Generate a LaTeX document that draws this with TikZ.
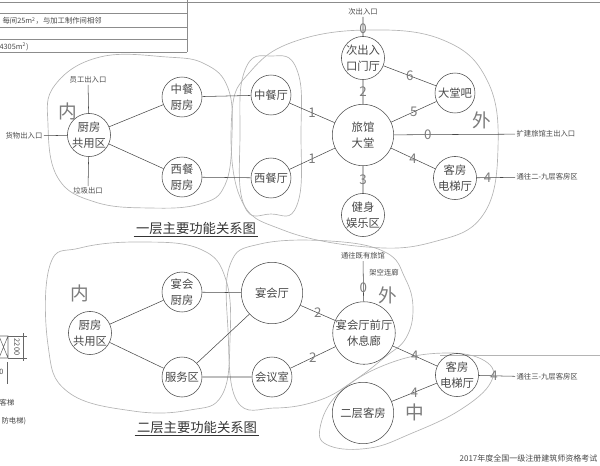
\documentclass[tikz,border=0pt]{standalone}
\usepackage{fontspec}
\setmainfont{Noto Sans CJK SC}
\usetikzlibrary{positioning}
\definecolor{linegray}{HTML}{484848}
\definecolor{pencil}{HTML}{7C7C7C}
\definecolor{zonegray}{HTML}{B4B4B4}
\tikzset{
room/.style={circle, draw=linegray, thin, minimum size=30pt, inner sep=0pt, align=center, text=linegray, font=\fontsize{8.5}{12}\selectfont}, % small function circles
hall/.style={room, minimum size=46pt}, % the large circles
note/.style={font=\fontsize{5.5}{6}\selectfont, text=linegray, inner sep=1pt}, % small printed notes
hand/.style={font=\fontsize{10}{10}\selectfont, text=pencil, inner sep=0pt}, % pencil marks
bighand/.style={hand, font=\fontsize{14}{14}\selectfont}, % 内 / 外 / 中
zone/.style={draw=zonegray, line width=0.5pt}, % pencil outlines
heading/.style={font=\fontsize{10}{10}\selectfont, text=black!80, inner sep=1.5pt},
}

\begin{document}
\begin{tikzpicture}[x=0.75pt, y=-0.75pt]
  \useasboundingbox (0,0) rectangle (600,465);

  % table fragment, top left
  \draw[black!45, thin] (0,2) -- (600,2);
  \foreach \yy in {13,27,39,52} \draw[black!45, thin] (0,\yy) -- (187,\yy);
  \draw[black!45, thin] (187,0) -- (187,52);
  \node[note, anchor=west] (tab1) at (1,21) {每间25m\textsuperscript{2}，与加工制作间相邻};
  \node[note, anchor=west] (tab2) at (-2,47) {4305m\textsuperscript{2})};

  % elevator fragment, bottom left
  \draw[black!60, thin] (-1,336) rectangle (8,358) (-1,336) -- (8,358) (-1,358) -- (8,336);
  \draw[black!60, very thin] (8,336) -- (27,336) (8,358) -- (27,358) (23,333) -- (23,361);
  \node[note, rotate=-90] (dim) at (17,347) {2200};
  \draw[black!60, very thin] (7,362) -- (7,384);
  \node[note, anchor=east] (dim2) at (5,372) {0};
  \node[note, anchor=east] (kt) at (16,403) {客梯};
  \node[note, anchor=west] (xf) at (0,421) {防电梯)};

  % pencil zones
  \draw[zone] plot[smooth cycle, tension=0.7] coordinates {(48,125) (55,85) (100,57) (167,57) (205,64) (228,88) (232,135) (225,185) (200,204) (150,208) (95,202) (58,178)};
  \draw[zone] plot[smooth cycle, tension=0.7] coordinates {(232,112) (250,72) (293,42) (367,30) (443,40) (487,80) (498,148) (483,215) (433,242) (367,247) (283,230) (240,197)};
  \draw[zone] plot[smooth cycle, tension=0.8] coordinates {(271,56) (297,70) (301,135) (297,205) (271,214) (244,205) (240,135) (245,70)};
  \draw[zone] plot[smooth cycle, tension=0.7] coordinates {(50,265) (80,248) (140,242) (200,249) (226,280) (230,340) (222,395) (190,410) (133,411) (68,392) (48,345)};
  \draw[zone] plot[smooth cycle, tension=0.7] coordinates {(230,265) (260,244) (330,241) (385,252) (405,278) (413,308) (406,338) (385,357) (355,380) (320,400) (275,408) (237,401) (228,330)};
  \draw[zone] plot[smooth cycle, tension=0.7] coordinates {(320,428) (340,392) (390,363) (445,353) (485,361) (491,382) (460,410) (410,434) (370,448) (330,446)};
  \draw[zone] (440,355) -- (600,355);

  % first floor
  \node[room] (ch1) at (89,135) {厨房\\共用区};
  \node[room] (zck) at (182,97) {中餐\\厨房};
  \node[room] (xck) at (182,177) {西餐\\厨房};
  \node[room] (zct) at (271,95) {中餐厅};
  \node[room] (xct) at (271,178) {西餐厅};
  \node[hall] (lgdt) at (363,135) {旅馆\\大堂};
  \node[room] (ccrk) at (363,58) {次出入\\口门厅};
  \node[room] (dtb) at (455,93) {大堂吧};
  \node[room] (kfdt1) at (455,178) {客房\\电梯厅};
  \node[room] (jsyl) at (363,215) {健身\\娱乐区};

  \node[note] (ygrk) at (88,80) {员工出入口};
  \node[note] (hwrk) at (24,136) {货物出入口};
  \node[note] (ljck) at (88,191) {垃圾出口};
  \node[note] (ccrkt) at (363,12) {次出入口};
  \node[note, anchor=west] (kjrk) at (515,134) {扩建旅馆主出入口};
  \node[note, anchor=west] (tw29) at (515,177) {通往二-九层客房区};

  \draw[linegray, thin] (ch1) -- (ygrk) (ch1) -- (hwrk) (ch1) -- (ljck)
        (ch1) -- (zck) (ch1) -- (xck)
        (zck) -- (zct) (xck) -- (xct)
        (zct) -- node[hand]{1} (lgdt)
        (xct) -- node[hand]{1} (lgdt)
        (ccrk) -- node[hand]{2} (lgdt)
        (ccrk) -- node[hand, pos=0.4]{0} (ccrkt)
        (ccrk) -- node[hand]{6} (dtb)
        (dtb) -- node[hand]{5} (lgdt)
        (lgdt) -- node[hand]{4} (kfdt1)
        (lgdt) -- node[hand]{3} (jsyl)
        (lgdt) -- node[hand, pos=0.28]{0} (kjrk)
        (kfdt1) -- node[hand, pos=0.28]{4} (tw29);

  \node[bighand] (nei1) at (68,111) {内};
  \node[bighand] (wai1) at (482,120) {外};
  \node[heading] (t1) at (196,228) {一层主要功能关系图};
  \draw[black!80, thin] (t1.south west) -- (t1.south east);

  % second floor
  \node[room] (ch2) at (90,333) {厨房\\共用区};
  \node[room] (yhck) at (182,292) {宴会\\厨房};
  \node[room] (fwq) at (182,377) {服务区};
  \node[hall] (yht) at (272,293) {宴会厅};
  \node[room] (hys) at (272,377) {会议室};
  \node[hall] (yhqt) at (364,333) {宴会厅前厅\\休息廊};
  \node[room] (kfdt2) at (457,375) {客房\\电梯厅};
  \node[hall] (eckf) at (363,413) {二层客房};

  \node[note] (twjy) at (363,256) {通往既有旅馆};
  \node[note] (jklk) at (384,273) {架空连廊};
  \node[note, anchor=west] (tw39) at (515,377) {通往三-九层客房区};

  \draw[linegray, thin] (ch2) -- (yhck) (ch2) -- (fwq)
        (yhck) -- (yht) (fwq) -- (yht) (fwq) -- (hys)
        (yht) -- node[hand]{2} (yhqt)
        (hys) -- node[hand]{2} (yhqt)
        (yhqt) -- node[hand, pos=0.35]{0} (twjy)
        (yhqt) -- node[hand]{4} (kfdt2)
        (kfdt2) -- node[hand]{4} (eckf)
        (kfdt2) -- node[hand, pos=0.42]{4} (tw39);

  \node[bighand] (nei2) at (80,293) {内};
  \node[bighand] (wai2) at (388,295) {外};
  \node[bighand] (zhong) at (415,412) {中};
  \node[heading] (t2) at (197,427) {二层主要功能关系图};
  \draw[black!80, thin] (t2.south west) -- (t2.south east);

  \node[note, anchor=east, font=\fontsize{6}{7}\selectfont] (exam) at (599,458) {2017年度全国一级注册建筑师资格考试};
\end{tikzpicture}
\end{document}
